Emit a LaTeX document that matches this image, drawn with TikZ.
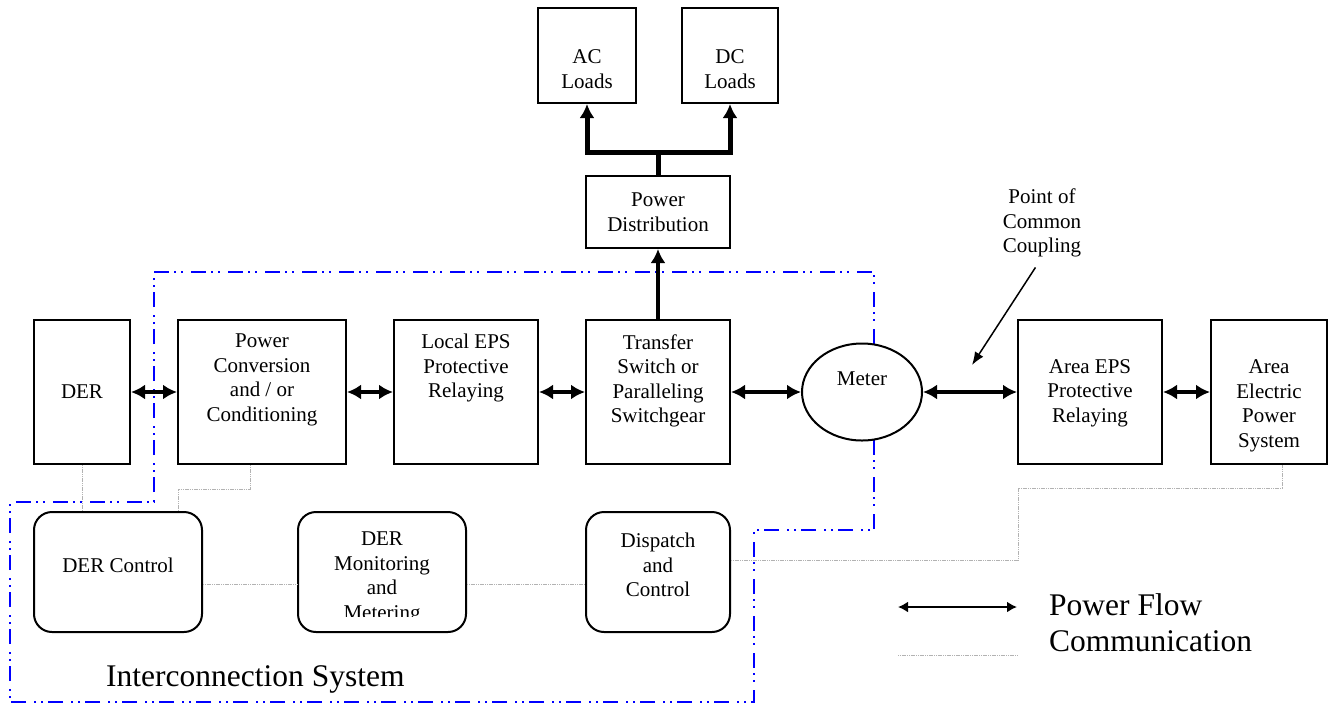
\documentclass[tikz,border=0pt]{standalone}
\usepackage{fontspec}
\setmainfont{Liberation Serif}
\usetikzlibrary{arrows.meta,positioning,calc,backgrounds,shapes.geometric}

\begin{document}
\begin{tikzpicture}[x=1pt, y=-1pt, >={Latex[length=14pt,width=15pt]}, font=\fontsize{21}{24.5}\selectfont]
	\tikzstyle{blk}=[draw=black, line width=2pt, fill=white, inner sep=0pt]
	\tikzstyle{rblk}=[blk, rounded corners=18pt]
	\tikzstyle{txt}=[align=center, inner sep=0pt]
	\tikzstyle{big}=[inner sep=0pt, anchor=west, font=\fontsize{31.5}{36}\selectfont]
	\tikzstyle{power}=[<->, line width=4pt]
	\tikzstyle{comm}=[draw=gray!60, line width=1pt, dash pattern=on 1.2pt off 0.6pt]
	\tikzstyle{ics}=[draw=blue, line width=2.2pt, dash pattern=on 15pt off 5pt on 2pt off 5pt on 2pt off 8pt]
	\useasboundingbox (0,0) rectangle (1329,705);

	% loads and distribution
	\node[blk, minimum width=98pt, minimum height=95pt]  (ac) at (587,55.5) {};
	\node[blk, minimum width=96pt, minimum height=95pt]  (dc) at (730,55.5) {};
	\node[blk, minimum width=144pt, minimum height=72pt] (pd) at (658,212) {};
	\node[txt] at (587,69) {AC\\Loads};
	\node[txt] at (730,69) {DC\\Loads};
	\node[txt] at (658,212) {Power\\Distribution};

	% power path
	\node[blk, minimum width=96pt, minimum height=144pt]  (der)  at (82,392) {};
	\node[blk, minimum width=168pt, minimum height=144pt] (conv) at (262,392) {};
	\node[blk, minimum width=144pt, minimum height=144pt] (leps) at (466,392) {};
	\node[blk, minimum width=144pt, minimum height=144pt] (xfer) at (658,392) {};
	\node[blk, ellipse, minimum width=120pt, minimum height=97pt] (meter) at (862,392) {};
	\node[blk, minimum width=144pt, minimum height=144pt] (aeps) at (1090,392) {};
	\node[blk, minimum width=116pt, minimum height=144pt] (grid) at (1269,392) {};
	\node[txt] at (82,392)   {DER};
	\node[txt] at (262,380)  {Power\\Conversion\\and / or\\Conditioning};
	\node[txt] at (466,368)  {Local EPS\\Protective\\Relaying};
	\node[txt] at (658,381)  {Transfer\\Switch or\\Paralleling\\Switchgear};
	\node[txt] at (862,379)  {Meter};
	\node[txt] at (1090,393) {Area EPS\\Protective\\Relaying};
	\node[txt] at (1269,406) {Area\\Electric\\Power\\System};

	% control side
	\node[rblk, minimum width=168pt, minimum height=120pt] (derctl) at (118,572) {};
	\node[rblk, minimum width=168pt, minimum height=120pt] (mon)    at (382,572) {};
	\node[rblk, minimum width=144pt, minimum height=120pt] (disp)   at (658,572) {};
	\node[txt] at (118,565) {DER Control};
	\begin{scope}
		\clip (298,512) rectangle (466,616);
		\node[txt] at (382,578) {DER\\Monitoring\\and\\Metering};
	\end{scope}
	\node[txt] at (658,565) {Dispatch\\and\\Control};

	\node[txt] (pcc) at (1042,223) {Point of\\Common\\Coupling};
	\coordinate (pcctip) at (972,365);
	\node[big] (icslbl) at (106,679) {Interconnection System};

	\draw[power] (der) -- (conv);
	\draw[power] (conv) -- (leps);
	\draw[power] (leps) -- (xfer);
	\draw[power] (xfer) -- (meter);
	\draw[power] (meter) -- (aeps);
	\draw[power] (aeps) -- (grid);
	\draw[->, line width=4pt] (xfer) -- (pd);
	\coordinate (split) at (658,152);
	\draw[line width=5pt] (pd.north) -- (split);
	\draw[->, line width=5pt] (split) -| (ac.south);
	\draw[->, line width=5pt] (split) -| (dc.south);
	\draw[->, line width=1.5pt, >={Latex[length=13pt,width=10pt]}, shorten <=12pt] (pcc.south) -- (pcctip);

	\draw[comm] (der.south) -- (der.south |- derctl.north);
	\draw[comm] ([xshift=-12pt]conv.south) -- ++(0,24) -| ([xshift=60pt]derctl.north);
	\draw[comm] ([yshift=-12pt]derctl.east) -- ([yshift=-12pt]mon.west);
	\draw[comm] ([yshift=-12pt]mon.east) -- ([yshift=-12pt]disp.west);
	\coordinate (bend) at (1018,488);
	\draw[comm] ([yshift=12pt]disp.east) -| (bend) -| ([xshift=13pt]grid.south);

	\begin{scope}[on background layer]
		\draw[ics] (154,272) -- (874,272) -- (874,530) -- (754,530) -- (754,702) -- (10,702) -- (10,502) -- (154,502) -- cycle;
	\end{scope}

	% legend
	\coordinate (lga) at (898,607);
	\coordinate (lgb) at (1017,607);
	\coordinate (lgc) at (898,655);
	\coordinate (lgd) at (1017,655);
	\draw[<->, line width=2.5pt, >={Latex[length=10pt,width=11pt]}] (lga) -- (lgb);
	\draw[comm] (lgc) -- (lgd);
	\node[big] (lgpow) at (1049,605) {Power Flow};
	\node[big] (lgcom) at (1049,641) {Communication};
\end{tikzpicture}
\end{document}
